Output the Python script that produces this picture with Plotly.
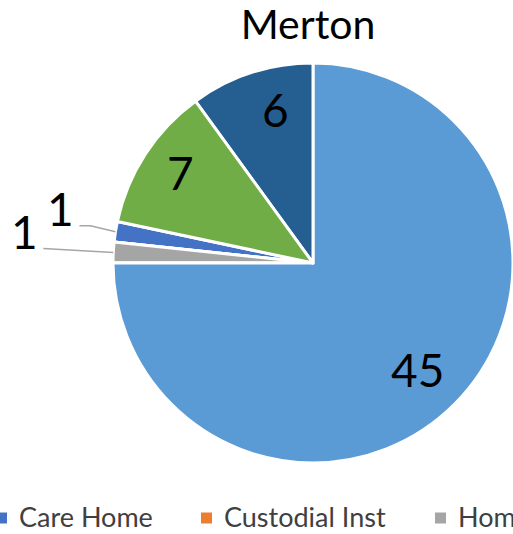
import math
import plotly.graph_objects as go

# ---- data ----
categories = ["Care Home", "Custodial Inst", "Home", "Hospice", "Hospital", "Elsewhere", "Other"]
values = [1, 0, 1, 0, 45, 6, 7]
colors = ["#4472C4", "#ED7D31", "#A5A5A5", "#FFC000", "#5B9BD5", "#255E91", "#70AD47"]
legend_shown = ["Care Home", "Custodial Inst", "Home"]
title_text = "Merton"

# ---- layout constants (pixels) ----
W, H = 513, 534
CX, CY, R = 313, 263, 200
ROT = 276  # first slice angle (clockwise degrees from 12 o'clock)
FONT = "Lato"

def px(x):
    return x / W

def py(y):
    return 1 - y / H

fig = go.Figure()
fig.add_trace(go.Pie(
    labels=categories,
    values=values,
    sort=False,
    direction="counterclockwise",
    rotation=ROT,
    marker=dict(colors=colors, line=dict(color="white", width=3)),
    textinfo="none",
    hoverinfo="label+value",
    showlegend=False,
    domain=dict(x=[px(CX - R), min(1.0, px(CX + R))], y=[py(CY + R), py(CY - R)]),
))

# slice mid angles, following the pie's counterclockwise layout
total = sum(values)
cur = ROT + values[0] * 360 / total
mids = []
for v in values:
    span = v * 360 / total
    mids.append(cur - span / 2)
    cur -= span

# inside label radial fraction + pixel nudge / outside label offsets (style)
inside_style = {"Hospital": (0.76, -3, -1), "Elsewhere": (0.78, 11, -5), "Other": (0.80, 2, -3)}
outside_style = {
    "Care Home": dict(label=(-55, -23), line=[(-25, -6), (-36, -6)]),
    "Home": dict(label=(-89, -21), line=[(-70, -4)]),
}

annotations = []
shapes = []
for cat, v, m in zip(categories, values, mids):
    if v == 0:
        continue
    a = math.radians(m)
    if cat in inside_style:
        f, nx, ny = inside_style[cat]
        x = CX + R * f * math.sin(a) + nx
        y = CY - R * f * math.cos(a) + ny
        annotations.append(dict(x=px(x), y=py(y), xref="paper", yref="paper",
                                text=str(v), showarrow=False, xanchor="center", yanchor="middle",
                                font=dict(family=FONT, size=46, color="black")))
    else:
        st = outside_style[cat]
        ex = CX + R * math.sin(a)
        ey = CY - R * math.cos(a)
        pts = [(ex, ey)] + [(ex + dx, ey + dy) for dx, dy in st["line"]]
        path = "M " + " L ".join(f"{px(x0)},{py(y0)}" for x0, y0 in pts)
        shapes.append(dict(type="path", path=path, xref="paper", yref="paper",
                           line=dict(color="#A6A6A6", width=1.5)))
        lx, ly = ex + st["label"][0], ey + st["label"][1]
        annotations.append(dict(x=px(lx), y=py(ly), xref="paper", yref="paper",
                                text=str(v), showarrow=False, xanchor="center", yanchor="middle",
                                font=dict(family=FONT, size=46, color="black")))

# legend (manual, clipped at right edge like the reference)
leg_x = [-4, 201, 435]
LEG_Y = 518
SQ = 11
for name, x0 in zip(legend_shown, leg_x):
    c = colors[categories.index(name)]
    shapes.append(dict(type="rect", xref="paper", yref="paper",
                       x0=px(x0), x1=px(x0 + SQ), y0=py(LEG_Y - SQ / 2), y1=py(LEG_Y + SQ / 2),
                       fillcolor=c, line=dict(width=0)))
    annotations.append(dict(x=px(x0 + SQ + 10), y=py(LEG_Y - 2), xref="paper", yref="paper",
                            text=name, showarrow=False, xanchor="left", yanchor="middle",
                            font=dict(family=FONT, size=27, color="#404040")))

fig.update_layout(
    width=W, height=H,
    margin=dict(l=0, r=0, t=0, b=0),
    paper_bgcolor="white",
    plot_bgcolor="white",
    title=dict(text=title_text, x=px(308), xanchor="center", y=py(25), yanchor="middle",
               font=dict(family=FONT, size=41, color="black")),
    annotations=annotations,
    shapes=shapes,
    showlegend=False,
)

fig.write_html("out.html",
               config={"displayModeBar": False},
               post_script="document.body.style.margin='0';document.body.style.overflow='hidden';")
